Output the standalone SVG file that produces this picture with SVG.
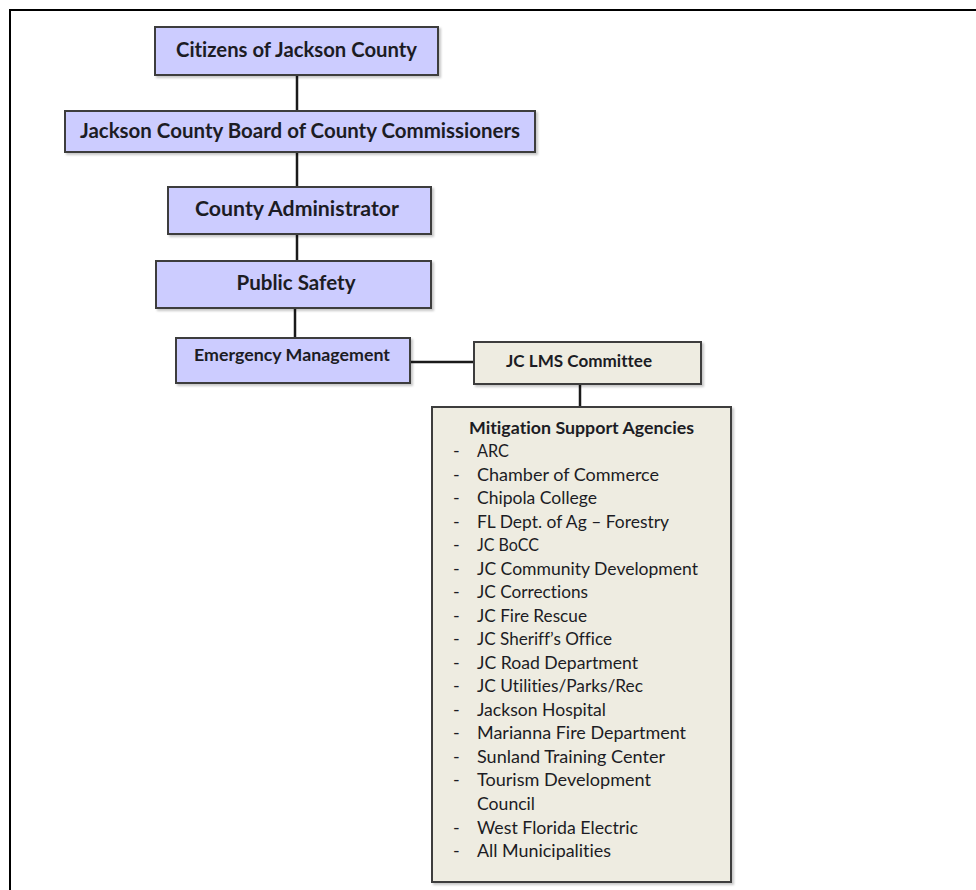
<svg xmlns="http://www.w3.org/2000/svg" width="976" height="890" viewBox="0 0 976 890">
<defs>
<filter id="sh" x="-5%" y="-5%" width="115%" height="115%">
<feDropShadow dx="2" dy="2" stdDeviation="1.2" flood-color="#000" flood-opacity="0.22"/>
</filter>
<style>
.frame{fill:none;stroke:#000;stroke-width:2}
.blue{fill:#CCCCFF;stroke:#3c3c3c;stroke-width:2;filter:url(#sh)}
.tan{fill:#EEECE1;stroke:#3c3c3c;stroke-width:2;filter:url(#sh)}
.conn line{stroke:#1a1a1a;stroke-width:2.5}
text{font-family:Lato,"Open Sans","Liberation Sans",sans-serif;fill:#1c1c24;font-variant-ligatures:none}
.big{font-size:20px;font-weight:bold;text-anchor:middle}
.mid{font-size:17.5px;font-weight:bold;text-anchor:middle}
.item{font-size:18px}
</style>
</defs>
<rect width="976" height="890" fill="#fff"/>
<path class="frame" d="M10 892 V10 H978"/>
<g class="conn" id="connectors">
<line x1="297" y1="75" x2="297" y2="111"/>
<line x1="297" y1="152" x2="297" y2="187"/>
<line x1="297" y1="234" x2="297" y2="261"/>
<line x1="295" y1="308" x2="295" y2="338"/>
<line x1="410" y1="362" x2="474" y2="362"/>
<line x1="580" y1="384" x2="580" y2="407"/>
</g>
<g id="n-citizens">
<rect class="blue" x="155" y="27" width="283" height="48"/>
<text class="big" x="296.5" y="57" textLength="241" lengthAdjust="spacingAndGlyphs">Citizens of Jackson County</text>
</g>
<g id="n-board">
<rect class="blue" x="65" y="111" width="470" height="41"/>
<text class="big" x="300" y="138" textLength="440" lengthAdjust="spacingAndGlyphs">Jackson County Board of County Commissioners</text>
</g>
<g id="n-admin">
<rect class="blue" x="168" y="187" width="263" height="47"/>
<text class="big" x="297" y="216" textLength="204" lengthAdjust="spacingAndGlyphs">County Administrator</text>
</g>
<g id="n-safety">
<rect class="blue" x="156" y="261" width="275" height="47"/>
<text class="big" x="296" y="290" textLength="119" lengthAdjust="spacingAndGlyphs">Public Safety</text>
</g>
<g id="n-em">
<rect class="blue" x="176" y="338" width="234" height="45"/>
<text class="mid" x="292" y="361" textLength="196" lengthAdjust="spacingAndGlyphs">Emergency Management</text>
</g>
<g id="n-lms">
<rect class="tan" x="474" y="342" width="227" height="42"/>
<text class="mid" x="579" y="367" textLength="146" lengthAdjust="spacingAndGlyphs">JC LMS Committee</text>
</g>
<g id="n-msa">
<rect class="tan" x="432" y="407" width="299" height="475"/>
<text class="mid" x="581.5" y="434" textLength="225" lengthAdjust="spacingAndGlyphs">Mitigation Support Agencies</text>
<g class="item">
<text x="453" y="457">-</text><text x="477" y="457" textLength="32" lengthAdjust="spacingAndGlyphs">ARC</text>
<text x="453" y="480.5">-</text><text x="477" y="480.5" textLength="182" lengthAdjust="spacingAndGlyphs">Chamber of Commerce</text>
<text x="453" y="504.1">-</text><text x="477" y="504.1" textLength="120" lengthAdjust="spacingAndGlyphs">Chipola College</text>
<text x="453" y="527.6">-</text><text x="477" y="527.6" textLength="192" lengthAdjust="spacingAndGlyphs">FL Dept. of Ag – Forestry</text>
<text x="453" y="551.1">-</text><text x="477" y="551.1" textLength="62" lengthAdjust="spacingAndGlyphs">JC BoCC</text>
<text x="453" y="574.7">-</text><text x="477" y="574.7" textLength="221" lengthAdjust="spacingAndGlyphs">JC Community Development</text>
<text x="453" y="598.2">-</text><text x="477" y="598.2" textLength="111" lengthAdjust="spacingAndGlyphs">JC Corrections</text>
<text x="453" y="621.7">-</text><text x="477" y="621.7" textLength="110" lengthAdjust="spacingAndGlyphs">JC Fire Rescue</text>
<text x="453" y="645.2">-</text><text x="477" y="645.2" textLength="135" lengthAdjust="spacingAndGlyphs">JC Sheriff’s Office</text>
<text x="453" y="668.8">-</text><text x="477" y="668.8" textLength="161" lengthAdjust="spacingAndGlyphs">JC Road Department</text>
<text x="453" y="692.3">-</text><text x="477" y="692.3" textLength="166" lengthAdjust="spacingAndGlyphs">JC Utilities/Parks/Rec</text>
<text x="453" y="715.8">-</text><text x="477" y="715.8" textLength="129" lengthAdjust="spacingAndGlyphs">Jackson Hospital</text>
<text x="453" y="739.4">-</text><text x="477" y="739.4" textLength="209" lengthAdjust="spacingAndGlyphs">Marianna Fire Department</text>
<text x="453" y="762.9">-</text><text x="477" y="762.9" textLength="188" lengthAdjust="spacingAndGlyphs">Sunland Training Center</text>
<text x="453" y="786.4">-</text><text x="477" y="786.4" textLength="174" lengthAdjust="spacingAndGlyphs">Tourism Development</text>
<text x="477" y="810" textLength="58" lengthAdjust="spacingAndGlyphs">Council</text>
<text x="453" y="833.5">-</text><text x="477" y="833.5" textLength="161" lengthAdjust="spacingAndGlyphs">West Florida Electric</text>
<text x="453" y="857">-</text><text x="477" y="857" textLength="134" lengthAdjust="spacingAndGlyphs">All Municipalities</text>
</g>
</g>
</svg>
